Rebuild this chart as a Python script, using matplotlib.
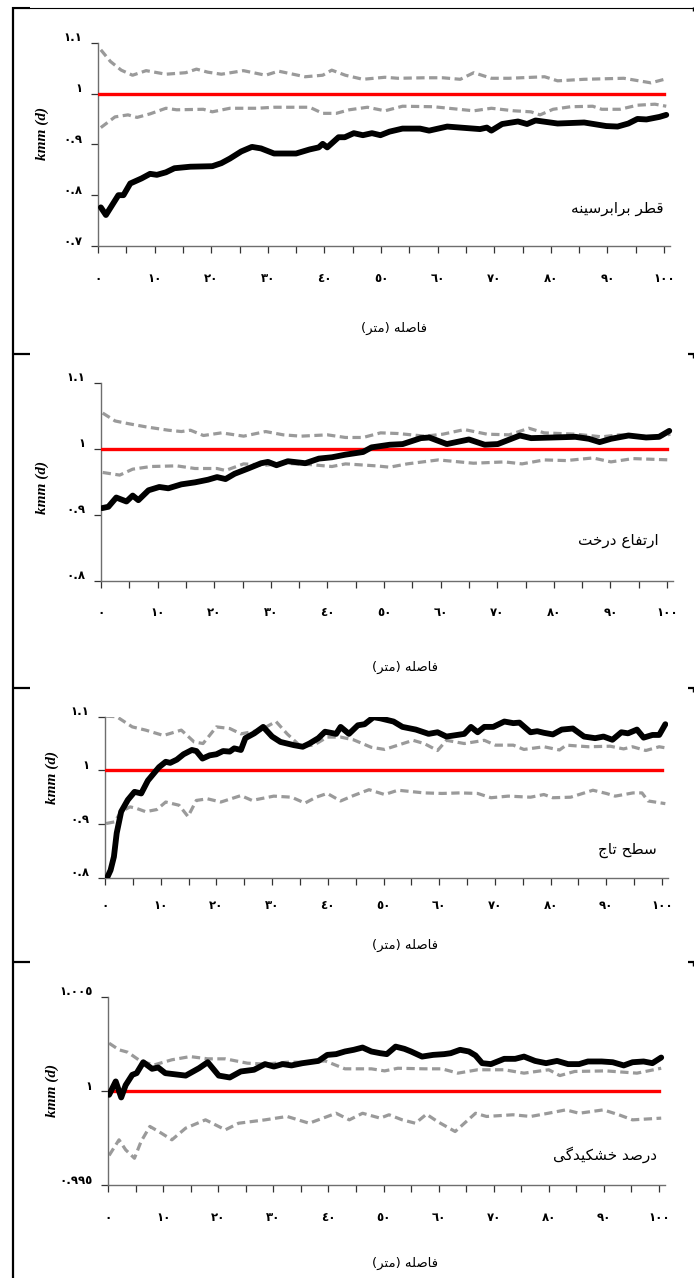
import numpy as np
import matplotlib.pyplot as plt
from matplotlib.lines import Line2D
from matplotlib.transforms import ScaledTranslation

# ---- data (distance in m, kmm(d)) ----
dbh_x = [0.5, 1.4, 3.6, 4.5, 5.7, 7.7, 9.2, 10.4, 12, 13.5, 16.3, 20.2, 21.8, 23.3, 25.3, 27.2, 28.8, 31.1, 35,
         37.4, 39, 39.7, 40.5, 42.5, 43.6, 45.2, 46.8, 48.4, 49.9, 51.5, 53.8, 56.9, 58.5, 61.7, 64, 67.5, 68.7,
         69.5, 71.4, 74.2, 75.8, 77.3, 81.2, 85.9, 89.8, 91.8, 93.7, 95.3, 96.9, 99.2, 100.4]
dbh_obs = [.776, .761, .800, .800, .823, .833, .842, .840, .845, .853, .856, .857, .863, .872, .886, .895, .892,
           .882, .882, .890, .894, .901, .894, .914, .914, .922, .918, .922, .918, .925, .931, .931, .927, .935,
           .933, .930, .933, .927, .940, .945, .940, .947, .941, .943, .936, .935, .941, .950, .949, .954, .958]
dbh_up_x = [0.5, 2.2, 4.1, 6.1, 8.5, 12, 15.5, 17.4, 19.4, 21.8, 25.7, 29.6, 31.9, 36.6, 39.7, 41.3, 43.7, 46.8,
            50.7, 53, 57.7, 60.9, 64, 66.4, 69.5, 72.6, 78.9, 81.2, 85.9, 92.9, 97.7, 100.4]
dbh_up = [1.086, 1.063, 1.046, 1.036, 1.045, 1.038, 1.041, 1.048, 1.042, 1.038, 1.045, 1.036, 1.044, 1.033,
          1.036, 1.046, 1.036, 1.028, 1.032, 1.030, 1.031, 1.031, 1.028, 1.041, 1.030, 1.030, 1.033, 1.025,
          1.028, 1.030, 1.021, 1.029]
dbh_lo_x = [0.5, 3, 5.3, 6.9, 9.2, 12, 13.9, 18.6, 20.2, 23.3, 28, 31.1, 37.4, 39.7, 42.1, 44.4, 47.6, 50.7,
            53.8, 59.3, 66.4, 69.5, 73.5, 76.5, 78.1, 80.4, 83.5, 87.4, 89, 92.2, 95.3, 98.4, 100.4]
dbh_lo = [.933, .954, .958, .953, .960, .971, .968, .969, .964, .971, .971, .973, .973, .961, .961, .968, .973,
          .966, .975, .974, .966, .971, .966, .964, .958, .969, .974, .975, .969, .969, .977, .979, .975]

ht_x = [0.2, 1.3, 2.7, 4.5, 5.6, 6.6, 8.4, 10.3, 11.9, 14.2, 16.6, 18.9, 20.5, 22, 23.6, 26, 28.3, 29.5, 31, 33,
        36.1, 38.5, 40.8, 43.2, 46.3, 47.8, 51, 53.3, 56.5, 58, 61.1, 65, 67.8, 70.1, 74, 76, 83.8, 86.2, 88.1,
        90.1, 93.2, 96.3, 98.6, 100.4]
ht_obs = [.910, .912, .926, .920, .929, .922, .937, .942, .940, .946, .949, .953, .957, .954, .962, .970, .978,
          .980, .975, .981, .978, .985, .987, .991, .995, 1.002, 1.006, 1.007, 1.016, 1.017, 1.007, 1.014, 1.006,
          1.007, 1.020, 1.016, 1.018, 1.015, 1.010, 1.015, 1.020, 1.017, 1.018, 1.027]
ht_up_x = [0.3, 2.5, 4.8, 8, 11.9, 14.2, 15.8, 18.1, 21.3, 25.2, 29.1, 32.2, 35.3, 40, 43.2, 46.3, 49.4, 52.5,
           57.2, 60.4, 64.2, 68.2, 72.1, 75.6, 78.3, 83.8, 88.5, 91.6, 95.5, 97.9, 100.6]
ht_up = [1.054, 1.042, 1.038, 1.033, 1.028, 1.026, 1.028, 1.020, 1.024, 1.019, 1.026, 1.021, 1.019, 1.021,
         1.017, 1.017, 1.024, 1.023, 1.019, 1.022, 1.029, 1.022, 1.021, 1.031, 1.024, 1.022, 1.018, 1.021,
         1.019, 1.017, 1.022]
ht_lo_x = [0.3, 3.3, 5.6, 8.8, 13.4, 16.6, 20.5, 22, 25.2, 29.1, 32.2, 36.9, 40.8, 43.2, 48.6, 51, 54.1, 59.6,
           65.8, 71.3, 74.4, 78.3, 82.2, 86.9, 90.1, 94, 100.6]
ht_lo = [.964, .960, .969, .973, .974, .970, .970, .967, .977, .975, .978, .976, .973, .977, .974, .972, .977,
         .983, .978, .980, .977, .983, .982, .986, .980, .985, .983]

cr_x = [0.2, 1, 1.6, 2.1, 2.9, 4.1, 5.3, 6.5, 7.7, 8.5, 9.7, 10.9, 11.7, 12.9, 14.1, 15.6, 16.4, 17.5, 18.8, 20,
        21.2, 22.4, 23.2, 24.4, 25.2, 26.8, 28.4, 30, 31.5, 33.9, 35.5, 36.7, 38.3, 39.5, 41.5, 42.3, 43.8, 45.4,
        46.6, 48.2, 49.4, 51.8, 53.4, 55.8, 58.1, 59.7, 61.3, 64.5, 65.7, 66.9, 68.1, 69.7, 71.7, 73.3, 74.4,
        76.4, 77.6, 78.8, 80.4, 82, 84, 86, 88, 89.5, 91.1, 92.7, 93.9, 95.5, 96.7, 98.3, 99.5, 100.6]
cr_obs = [.796, .814, .839, .883, .923, .945, .960, .957, .981, .991, 1.006, 1.016, 1.014, 1.020, 1.030, 1.038,
          1.036, 1.022, 1.028, 1.030, 1.036, 1.035, 1.041, 1.038, 1.060, 1.069, 1.081, 1.063, 1.053, 1.047,
          1.044, 1.050, 1.060, 1.072, 1.068, 1.081, 1.068, 1.084, 1.086, 1.099, 1.097, 1.091, 1.081, 1.076,
          1.068, 1.071, 1.063, 1.068, 1.081, 1.071, 1.081, 1.081, 1.091, 1.088, 1.089, 1.071, 1.073, 1.070,
          1.067, 1.076, 1.078, 1.063, 1.060, 1.063, 1.057, 1.071, 1.069, 1.076, 1.061, 1.066, 1.066, 1.086]
cr_up_x = [0.2, 2.1, 4.9, 7.3, 10.5, 13.7, 16, 17.6, 20, 22.4, 24.4, 27.9, 30.7, 32.7, 35.1, 37.5, 39.9, 42.3,
           44.6, 47.8, 50.2, 52.6, 55.3, 57.3, 59.7, 61.3, 64.5, 68.1, 70.1, 73.3, 75.2, 78.8, 81.6, 82.8, 86.8,
           90.7, 93.1, 94.7, 97.1, 99.5, 100.6]
cr_up = [1.101, 1.100, 1.081, 1.075, 1.065, 1.075, 1.053, 1.050, 1.081, 1.078, 1.068, 1.075, 1.091, 1.068,
         1.045, 1.047, 1.062, 1.062, 1.057, 1.043, 1.039, 1.047, 1.056, 1.050, 1.037, 1.056, 1.050, 1.056,
         1.047, 1.047, 1.039, 1.044, 1.038, 1.047, 1.044, 1.045, 1.040, 1.044, 1.037, 1.044, 1.042]
cr_lo_x = [0.2, 1.7, 2.9, 4.5, 5.7, 7.3, 9.3, 10.9, 13.3, 14.9, 16.4, 18.4, 20.8, 24.4, 26.4, 30.3, 33.5, 35.9,
           37.9, 39.9, 42.3, 44.6, 47.4, 50.2, 52.6, 57.3, 60.5, 63.7, 66.9, 69.3, 72.4, 76.4, 78.8, 80.4, 83.6,
           87.6, 90, 91.6, 94.8, 96.4, 97.5, 100.6]
cr_lo = [.901, .904, .923, .932, .929, .923, .927, .941, .935, .914, .944, .947, .941, .953, .944, .952, .950,
         .939, .950, .957, .943, .953, .964, .955, .963, .958, .957, .958, .957, .949, .952, .950, .955, .949,
         .950, .963, .957, .952, .958, .958, .943, .938]

dr_x = [0.2, 1.4, 2.4, 3.2, 4.4, 5.2, 6.4, 8, 9.1, 10.4, 14.1, 16.5, 18.1, 20.1, 22.1, 24.1, 26.5, 28.5, 30.1,
        31.7, 33.3, 35.3, 38.2, 39.8, 41.4, 43, 44.6, 46.2, 47.8, 49.4, 50.6, 52.2, 53.8, 55, 57, 59, 61, 62.2,
        63.9, 65.5, 66.7, 67.9, 69.5, 71.9, 73.9, 75.5, 77.5, 79.5, 81.5, 83.5, 85.5, 87.1, 89.6, 91.6, 93.6,
        95.2, 97.2, 98.8, 100.4]
dr_obs = [.99979, 1.0005, .99965, 1.0003, 1.00085, 1.00094, 1.00152, 1.00117, 1.00124, 1.00094, 1.00081,
          1.0012, 1.00152, 1.00081, 1.00071, 1.00103, 1.00112, 1.00142, 1.00129, 1.00142, 1.00135, 1.00147,
          1.00159, 1.00191, 1.00195, 1.00209, 1.00218, 1.0023, 1.00209, 1.002, 1.00195, 1.00235, 1.00223,
          1.00209, 1.00182, 1.00191, 1.00195, 1.002, 1.00218, 1.00209, 1.00188, 1.00147, 1.00142, 1.0017,
          1.0017, 1.00182, 1.00159, 1.00147, 1.00159, 1.00142, 1.00142, 1.00156, 1.00156, 1.00152, 1.00135,
          1.00152, 1.00156, 1.00147, 1.00177]
dr_up_x = [0.2, 2, 3.6, 6, 8.4, 11.6, 14.9, 18.1, 21.3, 25.3, 28.5, 32.5, 36.5, 39.4, 43, 47.8, 50.2, 52.6,
           57.4, 60.6, 63.5, 67.1, 71.9, 75.5, 80, 82, 84.7, 90.4, 96, 100.4]
dr_up = [1.00253, 1.00218, 1.00205, 1.00156, 1.00138, 1.00165, 1.00182, 1.0017, 1.0017, 1.00147, 1.00142,
         1.00152, 1.00152, 1.00159, 1.00117, 1.00117, 1.00106, 1.0012, 1.00117, 1.00117, 1.00094, 1.00112,
         1.00112, 1.00094, 1.00112, 1.00081, 1.00103, 1.00106, 1.00094, 1.0012]
dr_lo_x = [0.2, 2, 3.2, 4.8, 6, 7.6, 9.2, 11.6, 14.1, 17.7, 21.3, 23.7, 28.5, 32.5, 36.5, 41.4, 43.8, 46.2,
           49.4, 51, 53.4, 55.8, 57.8, 59.8, 63, 66.7, 68.7, 73.5, 76.7, 79.9, 83.1, 85.5, 89.9, 92.7, 95.2, 100.4]
dr_lo = [.99657, .9974, .99687, .99642, .99731, .99811, .99784, .9974, .99802, .99846, .99793, .99828, .99846,
         .99864, .99828, .99881, .99846, .99881, .99855, .99873, .99846, .99828, .99876, .99837, .99784,
         .99881, .99864, .99873, .99864, .99881, .99899, .99881, .99899, .99873, .99846, .99855]

titles = ["قطر برابرسینه", "ارتفاع درخت", "سطح تاج", "درصد خشکیدگی"]
xlabel = "فاصله (متر)"
x_ticks = [0, 10, 20, 30, 40, 50, 60, 70, 80, 90, 100]

# ---- small Persian shaper (matplotlib does no Arabic shaping) ----
FORMS = {
    'ا': (0xFE8D, 0xFE8E, None, None), 'ب': (0xFE8F, 0xFE90, 0xFE91, 0xFE92),
    'ت': (0xFE95, 0xFE96, 0xFE97, 0xFE98), 'ج': (0xFE9D, 0xFE9E, 0xFE9F, 0xFEA0),
    'ح': (0xFEA1, 0xFEA2, 0xFEA3, 0xFEA4), 'خ': (0xFEA5, 0xFEA6, 0xFEA7, 0xFEA8),
    'د': (0xFEA9, 0xFEAA, None, None), 'ر': (0xFEAD, 0xFEAE, None, None),
    'س': (0xFEB1, 0xFEB2, 0xFEB3, 0xFEB4), 'ش': (0xFEB5, 0xFEB6, 0xFEB7, 0xFEB8),
    'ص': (0xFEB9, 0xFEBA, 0xFEBB, 0xFEBC), 'ط': (0xFEC1, 0xFEC2, 0xFEC3, 0xFEC4),
    'ع': (0xFEC9, 0xFECA, 0xFECB, 0xFECC), 'ف': (0xFED1, 0xFED2, 0xFED3, 0xFED4),
    'ق': (0xFED5, 0xFED6, 0xFED7, 0xFED8), 'ل': (0xFEDD, 0xFEDE, 0xFEDF, 0xFEE0),
    'م': (0xFEE1, 0xFEE2, 0xFEE3, 0xFEE4), 'ن': (0xFEE5, 0xFEE6, 0xFEE7, 0xFEE8),
    'ه': (0xFEE9, 0xFEEA, 0xFEEB, 0xFEEC), 'ک': (0xFB8E, 0xFB8F, 0xFB90, 0xFB91),
    'گ': (0xFB92, 0xFB93, 0xFB94, 0xFB95), 'ی': (0xFBFC, 0xFBFD, 0xFBFE, 0xFBFF),
}
MIRROR = {'(': ')', ')': '('}


def shape(s):
    out = []
    for i, ch in enumerate(s):
        if ch not in FORMS:
            out.append(MIRROR.get(ch, ch))
            continue
        f = FORMS[ch]
        prev = s[i - 1] if i > 0 else ''
        nxt = s[i + 1] if i + 1 < len(s) else ''
        pj = prev in FORMS and FORMS[prev][2] is not None
        nj = nxt in FORMS and f[2] is not None
        if pj and nj:
            out.append(chr(f[3]))
        elif pj:
            out.append(chr(f[1]))
        elif nj:
            out.append(chr(f[2]))
        else:
            out.append(chr(f[0]))
    return ''.join(out)[::-1]


DIG = str.maketrans('0123456789', '٠١٢٣٤٥٦٧٨٩')


def ar(v):
    return str(v).translate(DIG)


W, H = 694, 1278
fig = plt.figure(figsize=(W / 100, H / 100), dpi=100)
plt.rcParams['font.family'] = ['DejaVu Sans']


def fx(x):
    return x / W


def fy(y):
    return 1 - y / H


panels = [
    dict(rect=(98, 42.7, 5.66, 246), ylim=(0.7, 1.1), yt=[0.7, 0.8, 0.9, 1.0, 1.1],
         ytl=['٠.٧', '٠.٨', '٠.٩', '١', '١.١'],
         data=(dbh_x, dbh_obs, dbh_up_x, dbh_up, dbh_lo_x, dbh_lo),
         tpos=(664, 209), ypos=(42, 133), xpos=(394, 328), pad=13.5),
    dict(rect=(101, 382.7, 5.66, 580.7), ylim=(0.8, 1.1), yt=[0.8, 0.9, 1.0, 1.1],
         ytl=['٠.٨', '٠.٩', '١', '١.١'],
         data=(ht_x, ht_obs, ht_up_x, ht_up, ht_lo_x, ht_lo),
         tpos=(659, 540), ypos=(42, 487), xpos=(405, 667), pad=13.5),
    dict(rect=(105, 716.7, 5.57, 877.7), ylim=(0.8, 1.1), yt=[0.8, 0.9, 1.0, 1.1],
         ytl=['٠.٨', '٠.٩', '١', '١.١'],
         data=(cr_x, cr_obs, cr_up_x, cr_up, cr_lo_x, cr_lo),
         tpos=(657, 850), ypos=(52, 777), xpos=(405, 945), pad=10),
    dict(rect=(108, 996.7, 5.51, 1185), ylim=(0.995, 1.005), yt=[0.995, 1.0, 1.005],
         ytl=['٠.٩٩٥', '١', '١.٠٠٥'],
         data=(dr_x, dr_obs, dr_up_x, dr_up, dr_lo_x, dr_lo),
         tpos=(657, 1155), ypos=(52, 1090), xpos=(405, 1263), pad=13.5),
]

axis_col = '#6e6e6e'
for i, p in enumerate(panels):
    left, top, ppu, bottom = p['rect']
    ax = fig.add_axes([fx(left), fy(bottom), 101 * ppu / W, (bottom - top) / H])
    xo, yo, xu, yu, xl, yl = p['data']
    ax.plot(xu, yu, color='#9a9a9a', lw=2.3, dashes=(2.6, 1.4), zorder=2)
    ax.plot(xl, yl, color='#9a9a9a', lw=2.3, dashes=(2.6, 1.4), zorder=2)
    ax.plot([0, 100], [1, 1], color='#ff0000', lw=2.4, zorder=3)
    ax.plot(xo, yo, color='black', lw=4.2, zorder=4, solid_capstyle='round')
    ax.set_xlim(0, 101)
    ax.set_ylim(*p['ylim'])
    ax.set_xticks(x_ticks)
    ax.set_xticklabels([ar(t) for t in x_ticks])
    ax.set_xticks(np.arange(5, 100, 10), minor=True)
    ax.set_yticks(p['yt'])
    ax.set_yticklabels(p['ytl'])
    for s in ['top', 'right']:
        ax.spines[s].set_visible(False)
    for s in ['left', 'bottom']:
        ax.spines[s].set_color(axis_col)
        ax.spines[s].set_linewidth(1.0)
    ax.tick_params(axis='x', which='both', direction='out', length=5, width=0.9, color='#333333',
                   pad=p['pad'], labelsize=8.5)
    ax.tick_params(axis='y', direction='out', length=5, width=0.9, color='#333333', pad=6, labelsize=8.5)
    for lab in ax.get_xticklabels() + ax.get_yticklabels():
        lab.set_fontweight('bold')
    off = ScaledTranslation(0, 4.5 / 72, fig.dpi_scale_trans)
    for lab in ax.get_yticklabels():
        lab.set_transform(lab.get_transform() + off)
    ax.set_facecolor('none')

    fig.text(fx(p['tpos'][0]), fy(p['tpos'][1]), shape(titles[i]), ha='right', va='center', fontsize=11)
    fig.text(fx(p['ypos'][0]), fy(p['ypos'][1]), 'kmm (d)', rotation=90, ha='center', va='center',
             fontsize=11, fontweight='bold', fontstyle='italic', family=['Liberation Serif'])
    fig.text(fx(p['xpos'][0]), fy(p['xpos'][1]), shape(xlabel), ha='center', va='center', fontsize=9.5)

# ---- page frame pieces ----
def seg(x0, y0, x1, y1, lw):
    fig.add_artist(Line2D([fx(x0), fx(x1)], [fy(y0), fy(y1)], color='black', lw=lw,
                          transform=fig.transFigure, solid_capstyle='butt'))


seg(12.5, 7, 12.5, 1278, 1.6)
seg(12, 7.5, 693, 7.5, 0.8)
seg(12, 8, 30, 8, 1.5)
seg(692.5, 7, 692.5, 11, 1.0)
for yy in [354, 688, 962]:
    seg(12, yy, 30, yy, 1.6)
    seg(688, yy, 694, yy, 1.6)
    seg(693, yy, 693, yy + 4, 1.0)

fig.savefig('out.png', dpi=100, facecolor='white')
